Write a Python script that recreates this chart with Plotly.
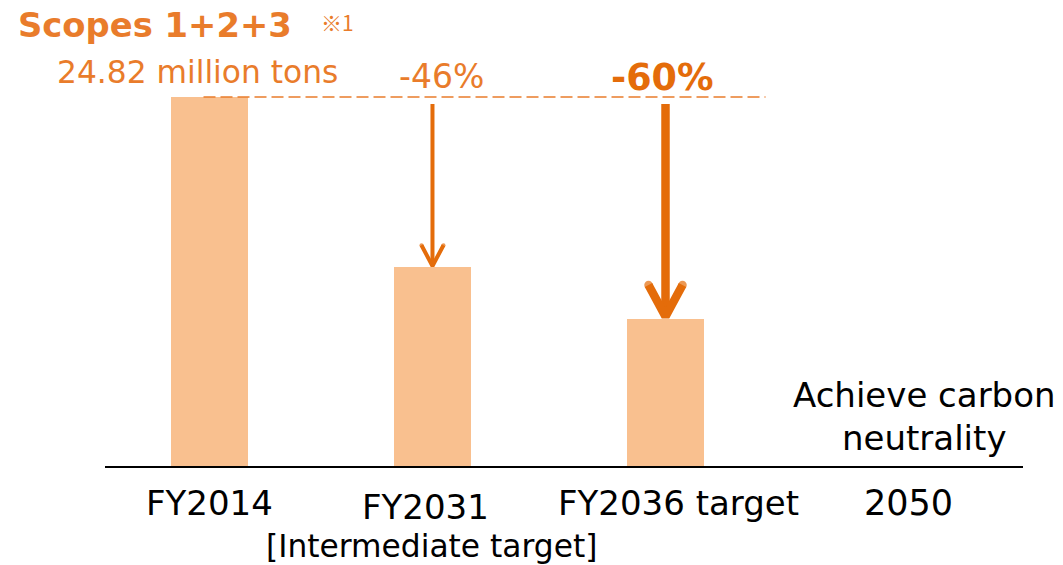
import plotly.graph_objects as go

# ---- data ----
categories = ["FY2014", "FY2031", "FY2036 target", "2050"]
base_emissions = 24.82          # million tons, Scopes 1+2+3
reductions = [0.0, 0.46, 0.60]  # reduction vs FY2014
values = [base_emissions * (1 - r) for r in reductions]
reduction_labels = ["-46%", "-60%"]

# ---- layout constants ----
W, H = 1063, 565
PLOT_BOTTOM = 467               # pixel row of the baseline
SLOT_PX = 228                   # pixel spacing between slots
ORIGIN_PX = 209.5               # pixel column of the first slot
slot_x = [0.0, 0.978, 2.0, 3.0]
x_lo = -ORIGIN_PX / SLOT_PX
x_hi = x_lo + W / SLOT_PX
y_hi = base_emissions * PLOT_BOTTOM / 370.0

BAR = "#F9C08F"
ORANGE = "#E97C2B"
DARK_ORANGE = "#E46C0A"
FONT = "DejaVu Sans"


def px_x(p):
    return p / W


def px_y(p):
    return (PLOT_BOTTOM - p) / PLOT_BOTTOM


def dx(p):
    return p / SLOT_PX


def dy(p):
    return p * y_hi / PLOT_BOTTOM


fig = go.Figure()

fig.add_trace(go.Bar(
    x=slot_x[:3], y=values, width=77 / SLOT_PX,
    marker=dict(color=BAR, line=dict(width=0)),
    hoverinfo="skip", showlegend=False,
))

# reference line at the FY2014 level
fig.add_trace(go.Scatter(
    x=[slot_x[0] - dx(6), slot_x[2] + dx(100)], y=[values[0], values[0]],
    mode="lines", line=dict(color=ORANGE, width=1.6, dash="12px,5px"),
    hoverinfo="skip", showlegend=False,
))

# reduction arrows from the reference line down to each target bar
arrow_specs = [
    (1, 4, 11, 22),   # slot, stroke width, half head width px, head height px
    (2, 8.5, 17, 34),
]
for slot, lw, hw, hh in arrow_specs:
    xc = slot_x[slot]
    top = values[0] - dy(7)
    tip = values[slot]
    fig.add_trace(go.Scatter(
        x=[xc, xc], y=[top, tip + dy(lw * 0.6)],
        mode="lines", line=dict(color=DARK_ORANGE, width=lw),
        hoverinfo="skip", showlegend=False,
    ))
    fig.add_trace(go.Scatter(
        x=[xc - dx(hw), xc, xc + dx(hw)],
        y=[tip + dy(hh), tip + dy(lw * 0.3), tip + dy(hh)],
        mode="lines+markers",
        line=dict(color=DARK_ORANGE, width=lw),
        marker=dict(size=[lw, 0, lw], color=DARK_ORANGE, line=dict(width=0)),
        hoverinfo="skip", showlegend=False,
    ))

annotations = []


def text(t, x, y, size, color="#000000", bold=False, xanchor="center", family=FONT):
    annotations.append(dict(
        text=f"<b>{t}</b>" if bold else t,
        x=px_x(x), y=px_y(y), xref="paper", yref="paper",
        xanchor=xanchor, yanchor="middle", showarrow=False,
        font=dict(family=family, size=size, color=color),
    ))


text("Scopes 1+2+3", 16, 26, 33.8, ORANGE, bold=True, xanchor="left")
text("※1", 319, 22, 21, ORANGE, xanchor="left", family="Noto Sans CJK JP")
text(f"{base_emissions:.2f} million tons", 55, 72, 31.3, ORANGE, xanchor="left")
text(reduction_labels[0], 441, 76, 33, ORANGE)
text(reduction_labels[1], 662, 77, 36.5, DARK_ORANGE, bold=True)

text(categories[0], 209, 503, 34)
text(categories[1], 425, 507, 34)
text(categories[2], 678, 503, 34)
text(categories[3], 908, 503, 35)
text("[Intermediate target]", 431, 546, 31.3)
text("Achieve carbon", 924, 395, 34)
text("neutrality", 924, 438, 34)

fig.update_layout(
    width=W, height=H,
    margin=dict(l=0, r=0, t=0, b=H - PLOT_BOTTOM, pad=0),
    plot_bgcolor="white", paper_bgcolor="white",
    xaxis=dict(range=[x_lo, x_hi], visible=False, fixedrange=True),
    yaxis=dict(range=[0, y_hi], visible=False, fixedrange=True),
    shapes=[dict(
        type="line", xref="paper", yref="paper",
        x0=px_x(105), x1=px_x(1023), y0=0, y1=0,
        line=dict(color="#000000", width=2),
    )],
    annotations=annotations,
    bargap=0,
)

fig.write_html("out.html")
